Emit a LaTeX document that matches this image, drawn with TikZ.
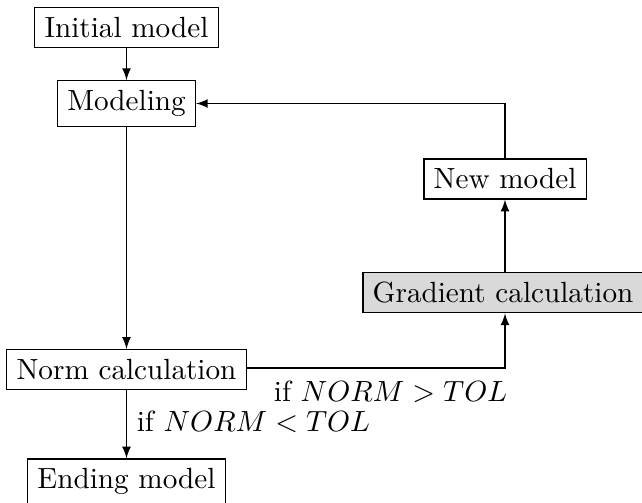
\documentclass[tikz,border=0pt]{standalone}
\usetikzlibrary{arrows}
\begin{document}
\begin{tikzpicture}[x=0.3425pt,y=-0.3425pt,
  box/.style={draw, thin, rectangle},
  grbox/.style={box, fill=black!15},
  flow/.style={draw, thin, -latex}]
\useasboundingbox (0,0) rectangle (642,502);
\node[box]    (init)  at (126.5,27.5)  {Initial model};
\node[box]    (model) at (126.5,103.5) {Modeling};
\node[box]    (newm)  at (505,179)     {New model};
\node[grbox]  (grad)  at (503,292.5)   {Gradient calculation};
\node[box]    (norm)  at (126.5,369.5) {Norm calculation};
\node[box]    (endm)  at (126.5,481.8) {Ending model};
\coordinate (cr) at (505,368);
\coordinate (ct) at (505,103.5);
\draw[flow] (init) -- (model);
\draw[flow] (model) -- (norm);
\draw[flow] (norm.south -| model) -- node[right, yshift=1pt] {if $NORM < TOL$} (endm);
\draw[flow] (norm.east |- cr) -- (cr) node[below left, inner xsep=0pt, xshift=1pt, yshift=-1pt] {if $NORM > TOL$} -- (grad.south -| cr);
\draw[flow] (grad.north -| cr) -- (newm);
\draw[flow] (newm.north) -- (ct) -- (model.east);
\end{tikzpicture}
\end{document}
